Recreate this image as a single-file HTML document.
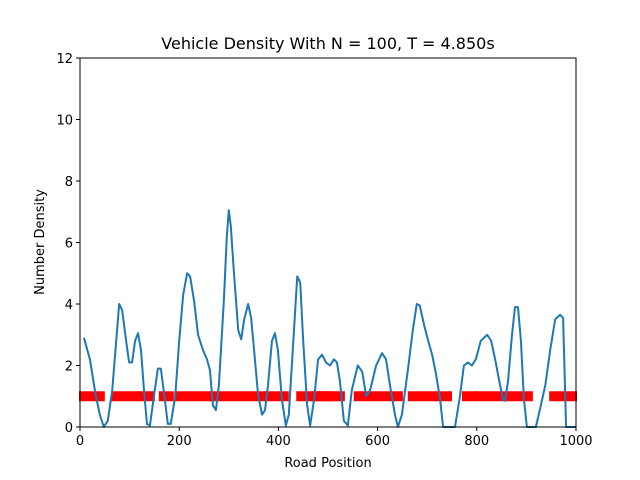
<!DOCTYPE html>
<html><head><meta charset="utf-8"><style>
html,body{margin:0;padding:0;background:#fff;}
svg{display:block;font-family:"DejaVu Sans","Liberation Sans",sans-serif;}
</style></head><body>
<svg id="chart" width="640" height="480" viewBox="0 0 640 480">
<rect width="640" height="480" fill="#fff"/>
<text x="328" y="49" text-anchor="middle" font-size="16">Vehicle Density With N = 100, T = 4.850s</text>
<g id="marks"></g>
<rect x="80" y="58" width="496" height="369" fill="none" stroke="#000" stroke-width="1"/>
<g id="axes"></g>
<text x="328" y="467" text-anchor="middle" font-size="13">Road Position</text>
<text transform="translate(44,242) rotate(-90)" text-anchor="middle" font-size="13">Number Density</text>
</svg>
<script>
const xTicks=[0,200,400,600,800,1000];
const yTicks=[0,2,4,6,8,10,12];
const densityX=[8,20,32,40,48,56,65,73,79,85,93,99,105,111,117,123,129,135,141,149,157,163,171,177,183,192,200,208,216,222,230,238,248,256,262,268,274,280,290,296,300,304,310,319,325,331,339,345,351,359,367,373,379,387,393,399,407,415,421,429,438,444,450,458,464,472,480,488,496,504,512,518,524,532,540,548,560,569,577,585,597,609,617,625,635,641,649,661,671,679,685,694,702,710,718,726,732,740,748,756,766,774,782,790,798,808,821,829,837,847,853,857,863,871,877,883,889,895,901,919,927,938,948,958,968,974,980,988,1000];
const densityY=[2.9,2.2,1.0,0.4,0,0.2,1.2,2.8,4.0,3.8,2.8,2.1,2.1,2.8,3.05,2.5,1.2,0.1,0.05,1.0,1.9,1.9,0.9,0.1,0.1,1.0,2.8,4.3,5.0,4.9,4.1,3.0,2.5,2.2,1.85,0.7,0.55,1.35,4.1,6.2,7.05,6.55,5.1,3.15,2.85,3.5,4.0,3.55,2.5,1.05,0.4,0.55,1.35,2.8,3.05,2.5,0.9,0.05,0.4,2.5,4.9,4.7,2.8,0.7,0.05,0.9,2.2,2.35,2.1,2.0,2.2,2.1,1.5,0.2,0.05,1.2,2.0,1.8,1.0,1.2,2.0,2.4,2.2,1.35,0.4,0,0.4,1.85,3.15,4.0,3.95,3.3,2.8,2.35,1.7,0.9,0,0,0,0,1.0,2.0,2.1,2.0,2.2,2.8,3.0,2.8,2.2,1.35,0.9,0.85,1.5,3.0,3.9,3.9,2.8,0.9,0,0,0.55,1.35,2.5,3.5,3.65,3.55,0,0,0];
const vehicleStart=[2,67,119,163,194,264,375,440,470,556,665,720,774,800,950];
const vehicleEnd=[46,117,147,185,262,373,417,504,530,647,716,746,796,909,998];
const vehicleLevel=1.0;
const X0=80,X1=576,Y0=427,Y1=58;
const sx=v=>X0+(v-0)/(1000-0)*(X1-X0);
const sy=v=>Y0-(v-0)/(12-0)*(Y0-Y1);
const NS="http://www.w3.org/2000/svg";
const marks=document.getElementById('marks'),axes=document.getElementById('axes');
vehicleStart.forEach((s,i)=>{
  const r=document.createElementNS(NS,'rect');
  r.setAttribute('x',sx(s)-2);r.setAttribute('width',sx(vehicleEnd[i])-sx(s)+4);
  r.setAttribute('y',sy(vehicleLevel)-5);r.setAttribute('height',10);r.setAttribute('fill','#ff0000');
  
  
  marks.appendChild(r);
});
const p=document.createElementNS(NS,'polyline');
p.setAttribute('points',densityX.map((x,i)=>sx(x)+','+sy(densityY[i])).join(' '));
p.setAttribute('fill','none');p.setAttribute('stroke','#1f77b4');p.setAttribute('stroke-width','2');p.setAttribute('stroke-linejoin','round');


marks.appendChild(p);
xTicks.forEach(t=>{
  const l=document.createElementNS(NS,'line');
  l.setAttribute('x1',sx(t));l.setAttribute('x2',sx(t));l.setAttribute('y1',Y0);l.setAttribute('y2',Y0+4);l.setAttribute('stroke','#000');
  
  
  axes.appendChild(l);
  const tx=document.createElementNS(NS,'text');
  tx.setAttribute('x',sx(t));tx.setAttribute('y',Y0+18);tx.setAttribute('text-anchor','middle');tx.setAttribute('font-size','13');tx.textContent=t;
  
  
  axes.appendChild(tx);
});
yTicks.forEach(t=>{
  const l=document.createElementNS(NS,'line');
  l.setAttribute('x1',X0-4);l.setAttribute('x2',X0);l.setAttribute('y1',sy(t));l.setAttribute('y2',sy(t));l.setAttribute('stroke','#000');
  
  
  axes.appendChild(l);
  const tx=document.createElementNS(NS,'text');
  tx.setAttribute('x',X0-7);tx.setAttribute('y',sy(t)+5);tx.setAttribute('text-anchor','end');tx.setAttribute('font-size','13');tx.textContent=t;
  
  
  axes.appendChild(tx);
});
</script>
</body></html>
